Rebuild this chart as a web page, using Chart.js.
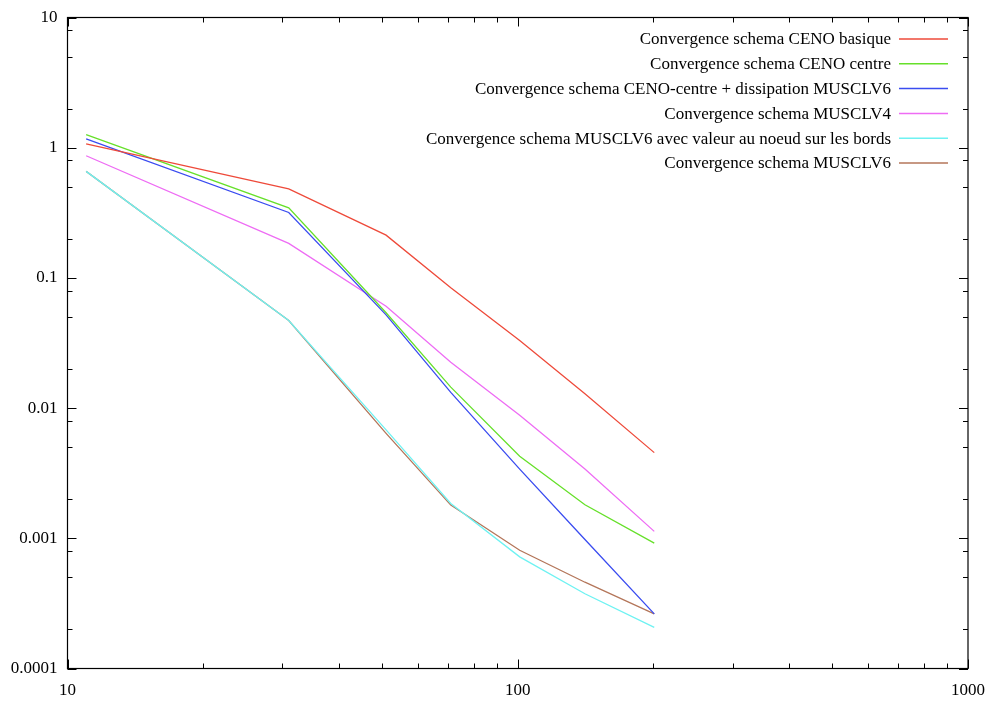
<!DOCTYPE html>
<html>
<head>
<meta charset="utf-8">
<script src="https://cdn.jsdelivr.net/npm/chart.js@4/dist/chart.umd.min.js"></script>
<style>
  html, body { margin: 0; padding: 0; background: #fff; }
  #wrap { width: 989px; height: 701px; position: relative; }
</style>
</head>
<body>
<div id="wrap"><canvas id="conv"></canvas></div>
<script>
// mesh sizes (x) and error per scheme (y)
const meshSizes = [11, 31, 51, 71, 101, 141, 201];

const cenoBasique   = [1.07, 0.483, 0.213, 0.084, 0.033, 0.0129, 0.00455];
const cenoCentre    = [1.26, 0.345, 0.054, 0.0145, 0.00427, 0.00181, 0.000918];
const cenoDissip    = [1.17, 0.318, 0.052, 0.0132, 0.0034, 0.00098, 0.000263];
const musclV4       = [0.867, 0.184, 0.0605, 0.0225, 0.0088, 0.0034, 0.00113];
const musclV6Noeud  = [0.658, 0.047, 0.0068, 0.00185, 0.00072, 0.000375, 0.000207];
const musclV6       = [0.658, 0.047, 0.0064, 0.0018, 0.00081, 0.00046, 0.000263];

const seriesLabels = [
  'Convergence schema CENO basique',
  'Convergence schema CENO centre',
  'Convergence schema CENO-centre + dissipation MUSCLV6',
  'Convergence schema MUSCLV4',
  'Convergence schema MUSCLV6 avec valeur au noeud sur les bords',
  'Convergence schema MUSCLV6'
];
const seriesValues = [cenoBasique, cenoCentre, cenoDissip, musclV4, musclV6Noeud, musclV6];
const seriesColors = ['#ee4a3a', '#66e02a', '#3a4cf0', '#ee6cf4', '#6ef2f2', '#b4765a'];

const xTicks = [10, 100, 1000];
const yTicks = [10, 1, 0.1, 0.01, 0.001, 0.0001];
const yTickLabels = ['10', '1', '0.1', '0.01', '0.001', '0.0001'];
const xMinorSteps = [2, 3, 4, 5, 6, 7, 8, 9];
const yMinorSteps = [2, 5, 8];

const FONT = 'Liberation Serif, Times New Roman, serif';

const datasets = seriesLabels.map((label, i) => ({
  label: label,
  data: meshSizes.map((x, j) => ({ x: x, y: seriesValues[i][j] })),
  borderColor: seriesColors[i],
  backgroundColor: seriesColors[i],
  borderWidth: 1.3,
  pointRadius: 0,
  tension: 0,
  fill: false
}));

// draws the frame, inward (mirrored) tick marks and the right-aligned key
const framePlugin = {
  id: 'frame',
  afterDatasetsDraw(chart) {
    const ctx = chart.ctx;
    const area = chart.chartArea;
    const xs = chart.scales.x, ys = chart.scales.y;
    ctx.save();
    ctx.strokeStyle = '#000';
    ctx.lineWidth = 1;

    function hTick(v, len) {
      const px = Math.round(xs.getPixelForValue(v)) + 0.5;
      ctx.beginPath();
      ctx.moveTo(px, area.bottom); ctx.lineTo(px, area.bottom - len);
      ctx.moveTo(px, area.top); ctx.lineTo(px, area.top + len);
      ctx.stroke();
    }
    function vTick(v, len) {
      const py = Math.round(ys.getPixelForValue(v)) + 0.5;
      ctx.beginPath();
      ctx.moveTo(area.left, py); ctx.lineTo(area.left + len, py);
      ctx.moveTo(area.right, py); ctx.lineTo(area.right - len, py);
      ctx.stroke();
    }

    xTicks.forEach((t, i) => {
      hTick(t, 9);
      if (i < xTicks.length - 1) xMinorSteps.forEach(m => hTick(t * m, 5));
    });
    yTicks.forEach((t, i) => {
      vTick(t, 9);
      if (i < yTicks.length - 1) yMinorSteps.forEach(m => vTick(yTicks[i + 1] * m, 5));
    });

    ctx.lineWidth = 1.2;
    ctx.strokeRect(area.left, area.top, area.right - area.left, area.bottom - area.top);

    // key
    ctx.font = '17px ' + FONT;
    ctx.textAlign = 'right';
    ctx.textBaseline = 'middle';
    ctx.fillStyle = '#000';
    chart.data.datasets.forEach((ds, i) => {
      const y = 39 + i * 24.8;
      ctx.fillText(ds.label, 891, y + 1);
      ctx.strokeStyle = ds.borderColor;
      ctx.lineWidth = 1.5;
      ctx.beginPath();
      ctx.moveTo(899, y); ctx.lineTo(948, y);
      ctx.stroke();
    });
    ctx.restore();
  }
};

new Chart(document.getElementById('conv'), {
  type: 'line',
  data: { datasets: datasets },
  options: {
    responsive: true,
    maintainAspectRatio: false,
    animation: false,
    layout: { padding: { top: 17.5, right: 21, left: 0, bottom: 0 } },
    plugins: { legend: { display: false }, tooltip: { enabled: false } },
    scales: {
      x: {
        type: 'logarithmic',
        min: 10,
        max: 1000,
        afterBuildTicks: s => { s.ticks = xTicks.map(v => ({ value: v })); },
        afterFit: s => { s.height = 32.5; s.paddingLeft = 0; s.paddingRight = 0; },
        grid: { display: false, drawTicks: false },
        border: { display: false },
        ticks: {
          autoSkip: false,
          maxRotation: 0,
          padding: 12,
          color: '#000',
          font: { family: FONT, size: 17 },
          callback: v => String(v)
        }
      },
      y: {
        type: 'logarithmic',
        min: 0.0001,
        max: 10,
        afterBuildTicks: s => { s.ticks = yTicks.map(v => ({ value: v })); },
        afterFit: s => { s.width = 67.5; s.paddingTop = 0; s.paddingBottom = 0; },
        grid: { display: false, drawTicks: false },
        border: { display: false },
        ticks: {
          autoSkip: false,
          padding: 10,
          color: '#000',
          font: { family: FONT, size: 17 },
          callback: v => yTickLabels[yTicks.indexOf(v)] ?? ''
        }
      }
    }
  },
  plugins: [framePlugin]
});
</script>
</body>
</html>
